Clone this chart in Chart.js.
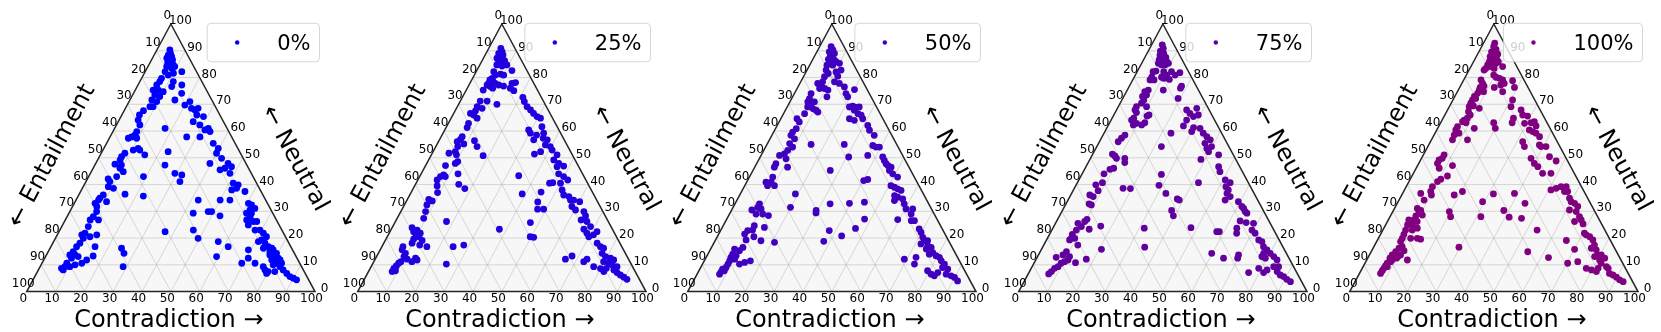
<!DOCTYPE html>
<html><head><meta charset="utf-8">
<script src="https://cdn.jsdelivr.net/npm/chart.js@4.4.1/dist/chart.umd.min.js"></script>
<style>
html,body{margin:0;padding:0;background:#fff;width:1661px;height:332px;overflow:hidden}
canvas{position:absolute;top:0}
</style></head><body>
<script>
// Series labels, colours and tick labels
const seriesLabels = ['0%', '25%', '50%', '75%', '100%'];
const seriesColors = ['#0000ff', '#2000df', '#4000bf', '#60009f', '#800080'];
const tickValues = [0, 10, 20, 30, 40, 50, 60, 70, 80, 90, 100];
const titleBottom = 'Contradiction →';
const titleLeft = '← Entailment';
const titleRight = '← Neutral';

// Each point: [contradiction %, neutral %]; entailment % = 100 - contradiction - neutral
const points0 = [
[4.5,90.3],[5.4,89.0],[4.9,88.4],[6.4,87.8],[5.0,87.2],[6.2,86.6],[7.3,86.6],[6.1,85.6],[7.3,85.1],[8.5,84.7],[6.5,84.1],[8.6,83.4],[9.3,84.1],[12.7,82.2],[6.9,82.2],[8.6,80.9],
[6.9,79.7],[6.9,78.5],[6.5,77.2],[6.2,75.3],[8.0,75.3],[10.0,74.7],[7.7,73.5],[9.7,72.9],[7.6,71.6],[9.6,71.0],[9.3,69.1],[8.2,69.1],[6.7,67.6],[6.1,66.0],[6.6,64.1],[8.1,62.3],[8.3,59.8],[8.3,58.5],[7.5,57.8],[6.6,57.3],[9.5,57.3],[11.9,53.5],[10.5,52.9],[8.2,51.7],[7.7,50.4],[7.8,49.2],[9.2,47.3],[6.8,47.6],[9.3,46.1],[11.1,44.8],[9.7,43.0],[7.2,42.1],[8.3,41.1],[8.7,39.2],[10.8,38.6],[8.5,36.1],[7.9,34.9],[7.8,34.2],[7.2,33.0],[10.9,33.6],[8.4,31.8],[9.3,29.9],[9.1,28.0],[8.6,26.8],[11.5,26.8],[9.2,24.3],[9.3,21.8],[8.5,21.2],[9.7,19.9],[11.7,20.5],[13.7,21.2],[9.4,18.1],[8.9,16.8],[8.7,14.9],[8.1,13.7],[9.9,13.7],[9.3,12.5],[11.3,13.1],[14.9,11.8],[8.6,10.6],[8.6,9.3],[7.7,8.7],[8.6,8.1],[10.3,9.3],[11.8,10.0],[13.8,10.6],[16.4,13.3],[15.3,16.8],
[15.4,51.1],[12.8,52.9],[19.0,43.0],[15.9,36.4],[22.6,35.7],[24.8,16.2],[26.6,14.3],[28.8,9.3],[36.8,22.4],[17.5,61.0],[22.9,52.3],[24.3,47.3],[29.3,44.2],[32.0,43.6],[32.6,41.1],
[10.1,81.6],[11.6,78.5],[12.0,76.6],[15.6,71.6],[15.2,77.2],[16.7,74.1],[20.0,69.7],[21.1,71.0],[22.9,68.5],[24.4,67.9],[25.2,68.5],[26.0,66.0],[28.6,65.4],[26.0,63.5],[28.9,62.3],[32.5,61.0],[33.7,59.8],[31.2,57.8],[26.6,57.8],[31.6,60.4],[37.0,55.4],[39.7,53.5],[40.0,51.7],[42.7,49.8],[45.9,47.9],[45.7,46.1],[47.7,46.7],[39.6,47.9],[44.3,45.5],[48.4,44.2],[51.4,40.5],[53.4,39.9],[53.5,38.6],[52.1,38.0],[57.0,37.4],[53.4,34.2],[50.0,34.2],[60.4,33.0],[61.8,32.4],[63.6,31.1],[61.6,29.3],[63.5,28.0],[65.5,26.2],[66.7,26.2],[64.4,24.9],[69.4,23.0],[67.7,23.0],[71.2,21.8],[72.9,20.5],[71.8,19.3],[73.6,18.1],[75.4,16.8],[74.0,16.2],[76.9,16.2],[77.7,15.6],[79.5,14.3],[77.5,13.7],[81.0,12.5],[82.0,11.8],[81.4,10.6],[80.5,10.0],[83.2,9.3],[84.9,8.1],[86.8,6.8],[88.5,5.6],[90.0,5.0],[91.4,4.4],[78.6,8.1],[80.0,7.5],[79.8,6.8],[82.3,7.5],[77.4,9.3],[73.9,10.6],[69.1,15.6],[70.6,12.5],[69.3,10.6],[61.5,16.8],[57.1,18.7],[59.3,13.1],[49.5,19.9],[46.3,23.0],[43.1,29.3],[49.2,29.9],[52.9,28.3],[48.0,29.9],[42.4,34.2],[62.2,30.5],[63.3,29.3],[62.9,26.8],[71.0,18.7],[76.9,14.9],[79.5,13.1],[79.1,11.8],[83.1,10.6]
];
const points25 = [
[4.2,90.9],[5.3,89.6],[4.4,89.0],[6.2,88.4],[5.3,87.8],[4.7,87.2],[6.7,86.8],[7.8,86.3],[6.0,85.9],[7.1,85.1],[8.6,85.1],[5.9,84.7],[7.9,84.3],[9.4,84.7],[12.2,82.6],[6.1,82.2],[7.3,80.9],[8.9,81.3],[10.2,80.9],
[6.8,79.7],[6.3,79.1],[7.7,78.5],[6.5,77.8],[8.8,77.8],[7.7,76.6],[6.3,77.2],[8.8,76.0],[10.3,77.2],[12.2,76.8],[14.6,77.8],[15.7,78.1],[14.9,76.0],[16.6,75.1],[5.9,75.3],[6.9,71.2],[9.3,71.2],[13.3,70.0],[6.9,69.1],[8.9,68.5],[7.1,67.5],[5.8,66.6],[7.2,66.0],[9.0,64.8],[7.0,62.9],[7.3,61.3],[7.3,57.9],[7.2,56.9],[6.5,56.0],[7.6,54.2],[7.7,52.3],[9.2,55.2],[12.3,56.4],[14.3,54.2],[18.1,50.8],[5.8,51.7],[8.7,51.1],[9.9,47.9],[10.4,48.6],[6.9,47.1],[8.0,43.6],[7.2,43.0],[8.9,43.0],[6.7,41.7],[7.8,39.5],[9.2,37.0],[12.8,44.0],[15.0,40.1],[17.9,38.5],[7.4,34.5],[8.9,33.9],[7.8,32.4],[8.6,29.9],[9.2,27.4],[17.7,26.2],
[6.9,23.9],[8.2,22.4],[9.1,21.8],[9.1,23.0],[10.8,21.8],[11.0,20.5],[12.8,19.1],[9.6,19.6],[9.8,18.1],[15.6,16.8],[12.8,17.4],[7.3,16.8],[7.6,15.6],[9.4,14.3],[9.5,13.1],[11.1,12.1],[9.4,11.2],[8.9,10.6],[8.6,9.6],[8.2,8.7],[8.2,7.5],[9.2,7.8],[13.8,12.5],[13.2,11.2],[14.7,11.8],[24.7,16.8],[28.1,17.4],[25.6,10.3],
[37.5,23.3],[34.2,43.3],[38.8,36.5],[47.0,25.8],[49.6,20.5],[50.9,20.3],[45.7,33.5],[47.0,30.8],[49.1,30.8],[45.0,37.2],
[21.0,72.6],[22.3,71.0],[24.2,69.1],[26.0,67.9],[27.7,66.6],[29.5,65.4],[31.0,64.8],[29.1,60.4],[30.3,59.2],[33.1,61.6],[34.9,59.2],[32.8,58.5],[35.7,57.3],[37.4,56.7],[37.7,54.8],[39.7,54.2],[41.0,52.9],[43.6,51.1],[43.4,49.2],[45.8,47.9],[48.0,46.9],[45.8,46.7],[47.7,44.0],[49.9,43.0],[52.0,41.7],[46.3,40.5],[47.3,40.7],[50.1,40.5],[51.9,38.0],[53.4,36.1],[55.5,35.5],[56.7,34.2],[57.8,34.2],[60.2,33.6],[58.4,31.8],[60.3,30.5],[63.5,29.9],[64.9,28.3],[64.1,26.8],[66.4,26.2],[68.6,24.3],[66.8,23.3],[71.8,22.4],[69.9,20.5],[68.6,21.8],[71.2,21.2],[74.0,18.1],[75.8,16.8],[77.2,16.2],[77.6,14.3],[79.4,13.1],[81.4,12.5],[82.9,11.8],[81.8,10.6],[83.2,10.0],[85.3,9.3],[79.7,11.2],[84.8,8.1],[86.4,7.1],[88.0,6.2],[89.6,5.4],[91.1,4.6],[72.8,11.2],[73.5,12.1],[77.2,9.3],[79.9,8.6],[81.6,7.5],[81.9,8.7],[66.0,12.1],[67.7,13.3],[35.6,51.4],[37.3,52.3],[32.7,56.7]
];
const points50 = [
[4.0,91.5],[5.2,90.3],[4.3,89.6],[6.4,89.0],[5.3,88.4],[6.5,87.5],[5.4,86.8],[7.6,86.5],[6.8,85.9],[8.5,85.9],[6.0,84.6],[8.0,84.6],[10.0,85.3],[11.8,82.8],[6.6,82.8],[8.0,81.5],[7.3,80.3],[10.4,82.1],[11.8,80.5],[11.7,78.4],[13.7,77.8],[16.1,76.5],[17.9,74.0],[19.1,72.8],[20.1,75.5],[11.0,75.3],[11.9,72.8],[7.6,78.4],[7.7,77.1],[6.2,77.8],[7.8,75.9],[9.5,75.9],
[5.8,74.0],[6.2,72.1],[6.2,70.9],[7.7,70.3],[8.5,70.9],[7.1,69.0],[9.2,68.4],[10.6,67.8],[11.6,67.1],[7.3,66.5],[5.6,64.6],[7.0,63.4],[7.2,60.9],[6.6,59.6],[6.6,58.4],[8.5,57.1],[7.7,55.3],[9.4,54.0],[8.3,52.8],[7.8,51.5],[6.4,50.9],[9.3,49.6],[6.7,47.8],[6.8,46.5],[11.4,46.5],[8.1,42.8],[8.5,40.9],[6.7,40.9],[10.3,39.6],[7.9,39.6],[8.5,32.8],[8.5,31.5],[7.0,30.5],[10.0,30.9],[9.2,29.0],[11.5,29.0],[13.8,28.4],[14.6,24.0],[10.8,24.6],[11.0,23.0],[9.4,22.8],[9.0,21.5],[12.7,20.5],[10.6,19.3],[15.9,19.0],[20.9,18.4],[10.9,16.5],[10.3,15.3],[8.3,15.9],[8.6,14.0],[10.1,13.4],[8.6,12.8],[8.8,11.5],[10.2,12.1],[12.8,10.3],[8.8,10.3],[8.8,9.0],[7.9,8.4],[7.9,7.5],[7.8,6.5],[8.8,7.8],[14.3,10.9],[16.0,11.5],
[15.3,55.0],[19.1,36.5],[19.9,31.5],[29.4,30.3],[29.8,29.4],[26.8,45.3],[33.0,32.8],[39.6,33.0],[44.6,33.4],[37.7,22.8],[37.8,18.8],[43.0,20.8],[46.4,23.6],[47.8,27.1],[26.8,55.0],[30.7,50.3],[37.0,50.9],[40.3,41.5],[41.5,41.9],
[21.6,69.0],[22.6,69.3],[24.0,68.8],[25.0,69.0],[23.9,67.8],[25.8,66.5],[27.2,65.9],[23.8,64.6],[25.8,64.0],[28.4,64.6],[31.4,62.1],[32.9,60.3],[35.5,58.4],[36.9,54.6],[38.3,54.0],[39.5,54.0],[42.5,50.3],[43.7,49.0],[44.9,47.8],[45.9,47.1],[47.3,46.5],[47.3,45.3],[49.1,44.0],[51.4,42.8],[50.7,39.6],[52.2,39.0],[53.6,38.4],[55.1,37.8],[53.8,35.9],[55.2,35.3],[57.3,34.6],[54.7,34.0],[58.7,32.8],[60.3,30.9],[62.6,30.9],[63.0,29.0],[64.3,26.5],[59.4,26.9],[65.4,26.5],[68.6,23.4],[69.9,22.1],[71.4,20.3],[72.6,19.0],[73.7,19.0],[74.7,17.1],[76.2,16.5],[74.8,15.9],[77.7,14.6],[79.4,13.4],[80.9,12.8],[82.2,11.5],[83.9,10.3],[83.9,9.0],[86.0,8.4],[83.2,7.1],[86.4,6.5],[88.4,5.9],[89.9,5.3],[91.6,4.0],[81.2,6.5],[82.6,5.9],[79.3,7.8],[72.8,12.8],[73.5,10.3],[69.1,12.1],[72.0,17.8],[76.8,14.0]
];
const points75 = [
[3.7,92.2],[4.7,90.9],[4.2,89.9],[5.8,89.0],[4.8,88.4],[6.0,87.8],[7.3,87.5],[5.4,86.6],[7.0,86.3],[8.4,85.9],[5.8,85.3],[7.2,84.7],[8.4,84.7],[9.3,85.3],[5.5,82.2],[6.4,82.4],[9.2,82.2],[11.9,82.2],[10.9,80.9],[10.5,79.7],[12.6,79.3],[13.8,80.9],[15.0,81.8],[6.1,80.1],[6.0,79.1],[7.4,79.1],
[7.3,75.3],[6.4,74.7],[7.6,73.5],[6.5,72.9],[7.6,71.6],[7.4,70.4],[9.8,69.1],[12.2,66.0],[6.3,69.1],[6.4,67.9],[7.4,66.9],[7.5,64.8],[7.1,64.1],[9.4,62.9],[8.6,62.3],[11.5,62.3],[12.2,63.1],[7.6,58.5],[7.0,57.3],[6.5,56.0],[6.8,51.4],[8.0,50.7],[11.9,49.8],[12.7,48.2],[9.0,49.8],[9.9,46.1],[8.8,45.7],[7.6,44.0],[8.7,40.7],[6.8,39.9],[8.7,37.7],[6.6,36.1],[8.1,35.5],[8.0,32.8],[9.0,32.4],[16.9,38.6],[19.5,38.5],[10.2,27.0],[9.8,26.2],[7.8,25.5],[9.6,24.3],[8.5,23.0],[12.8,23.3],[16.2,24.5],[7.9,21.4],[8.3,19.9],[9.5,19.9],[8.0,19.3],[11.8,17.4],[9.1,14.9],[8.5,13.7],[11.1,13.1],[11.2,11.8],[10.3,11.2],[9.4,10.6],[9.0,9.3],[8.1,8.7],[7.6,7.5],[7.1,6.6],[6.6,12.8],[14.3,10.8],[17.4,12.1],[20.8,15.8],
[22.4,54.2],[27.6,43.8],[28.8,39.7],[32.7,36.7],[37.7,34.6],[38.6,34.2],[37.9,30.3],[39.5,28.3],[31.7,23.7],[35.4,16.6],[23.2,59.2],[42.0,40.7],[47.8,23.9],[59.8,14.3],[64.8,12.5],[57.5,22.4],[58.4,22.4],[12.5,75.3],[9.5,80.1],[11.7,65.6],[19.2,72.2],
[18.1,76.8],[18.1,76.0],[24.3,67.9],[26.1,66.6],[27.5,68.5],[27.9,65.4],[29.3,66.0],[26.2,64.1],[26.2,61.9],[30.0,61.3],[30.1,59.8],[32.4,61.0],[34.4,59.2],[36.3,57.9],[38.1,56.7],[36.9,55.4],[39.8,54.2],[38.5,53.5],[39.7,52.3],[43.8,51.1],[38.5,49.4],[46.0,46.7],[47.4,44.8],[50.8,41.7],[53.0,40.7],[52.3,39.2],[53.7,38.0],[53.9,36.7],[54.5,34.2],[55.6,35.5],[59.4,33.6],[61.5,31.8],[62.5,31.1],[63.6,29.9],[64.5,29.3],[63.6,26.4],[66.0,25.8],[68.7,25.5],[69.4,23.0],[63.8,23.7],[71.1,21.8],[73.6,19.3],[75.0,18.7],[76.5,16.8],[78.3,15.6],[77.8,14.3],[80.1,14.3],[81.9,13.1],[83.7,11.8],[85.5,9.3],[83.8,9.3],[87.6,6.2],[89.1,5.6],[90.7,4.6],[92.4,3.7],[85.9,7.5],[82.1,8.1],[81.4,7.1],[78.9,8.7],[76.2,7.1],[69.4,13.7],[69.7,12.5],[64.7,21.8],[77.8,13.1],[79.3,12.5]
];
const points100 = [
[3.9,92.8],[4.2,91.5],[5.5,90.5],[4.4,89.6],[5.6,89.0],[7.0,88.7],[4.8,87.8],[6.3,87.2],[7.6,86.8],[5.5,85.9],[6.7,85.6],[8.1,85.3],[8.6,85.9],[5.5,84.7],[6.9,84.1],[8.4,83.4],[5.2,82.8],[5.5,83.4],[11.0,84.1],[9.5,80.9],[10.7,80.1],[12.1,79.7],[13.5,79.1],[14.7,77.8],[13.8,77.2],[17.1,78.8],[19.0,76.3],[12.0,76.3],[15.7,74.7],
[6.0,79.1],[7.2,77.8],[7.1,76.3],[8.2,76.8],[7.3,75.3],[9.1,74.7],[7.3,74.1],[6.8,72.9],[6.8,71.6],[7.6,72.2],[6.8,70.4],[6.9,69.1],[8.2,69.4],[10.7,68.5],[7.6,67.2],[8.8,66.0],[8.4,64.8],[7.7,64.1],[7.4,63.5],[8.8,63.1],[12.7,61.0],[6.6,61.6],[6.6,60.4],[8.3,59.2],[7.0,58.5],[7.3,56.7],[12.5,56.7],[7.2,51.1],[7.2,49.8],[6.4,49.2],[6.5,47.9],[8.0,46.1],[12.1,47.1],[12.3,43.2],[10.6,42.0],[9.9,41.1],[9.1,39.2],[9.4,37.4],[6.3,36.7],[10.3,36.1],[8.7,34.2],[18.2,36.1],[20.4,37.4],[19.6,29.9],[21.0,28.0],[7.9,31.1],[9.5,30.3],[9.4,29.3],[8.8,28.3],[10.9,28.6],[7.1,26.8],[8.9,26.8],[10.3,26.2],[9.3,24.9],[7.6,24.9],[11.6,23.7],[10.2,23.0],[7.9,23.0],[8.1,21.4],[8.3,19.9],[11.2,19.9],[13.5,19.9],[14.8,19.6],[8.3,18.7],[9.8,16.8],[9.0,16.2],[11.2,15.3],[8.5,14.9],[7.9,13.7],[10.8,13.7],[10.2,13.1],[10.0,12.5],[14.1,11.8],[8.8,11.8],[8.6,11.2],[7.7,10.6],[7.6,9.6],[7.5,8.7],[7.4,7.8],[7.3,6.8],[8.4,9.3],[7.7,12.5],[29.6,16.6],
[31.6,36.5],[29.3,33.6],[31.5,28.0],[38.3,30.3],[41.4,27.8],[38.8,36.7],[45.9,27.4],[44.3,33.0],[53.5,23.0],[54.3,14.9],[62.6,12.7],[20.0,61.0],[18.4,63.1],[24.8,63.1],[24.4,64.8],[33.5,54.2],[32.0,56.0],
[21.4,69.1],[20.7,71.6],[25.5,67.9],[27.0,66.0],[28.9,65.6],[29.2,62.9],[31.4,63.1],[32.3,63.5],[33.7,61.9],[32.1,60.4],[33.6,59.8],[35.0,59.2],[36.9,57.9],[38.4,54.8],[39.3,54.2],[41.0,54.2],[44.1,50.4],[38.0,49.8],[40.1,47.9],[41.9,46.7],[44.8,44.2],[47.7,44.2],[47.2,48.8],[50.8,38.0],[52.3,38.6],[53.7,39.2],[55.8,37.4],[56.9,37.4],[55.5,39.2],[58.8,34.9],[60.0,33.6],[61.5,33.0],[63.2,31.8],[61.0,30.5],[63.6,29.9],[65.7,28.0],[66.9,26.8],[68.3,25.3],[64.9,26.2],[70.5,21.8],[71.4,21.2],[73.0,20.5],[74.7,19.3],[76.2,17.4],[75.7,16.2],[77.7,15.6],[79.3,13.7],[78.4,13.1],[80.4,13.7],[82.2,12.5],[80.8,11.8],[84.4,9.3],[85.3,8.7],[77.7,8.7],[79.8,8.1],[81.8,7.5],[81.8,8.7],[81.9,10.6],[86.7,6.8],[88.2,6.2],[89.8,5.4],[91.4,4.4],[93.0,3.7],[65.6,19.1],[70.1,15.8],[70.3,10.6],[73.5,11.2]
];
const seriesPoints = [points0, points25, points50, points75, points100];

// ---- layout ----
const FONT = '"DejaVu Sans", "Liberation Sans", sans-serif';
const CW = 331, CH = 332;
const PANEL_STEP = 330.65;
const BL_X = 26.7, TRI_W = 288.3, TOP = 24, BASE = 291.6;

function ternaryPlugin(label, color) {
  return {
    id: 'ternary',
    beforeDatasetsDraw(chart) {
      const {ctx, scales: {x, y}} = chart;
      const P = (c, n) => [x.getPixelForValue(c + n / 2), y.getPixelForValue(n)];
      const L = P(0, 0), R = P(100, 0), A = P(0, 100);
      ctx.save();
      ctx.beginPath(); ctx.moveTo(L[0], L[1]); ctx.lineTo(R[0], R[1]); ctx.lineTo(A[0], A[1]); ctx.closePath();
      ctx.fillStyle = '#f7f7f7'; ctx.fill();
      ctx.strokeStyle = 'rgba(170,170,170,0.55)'; ctx.lineWidth = 0.8;
      const seg = (p, q) => { ctx.beginPath(); ctx.moveTo(p[0], p[1]); ctx.lineTo(q[0], q[1]); ctx.stroke(); };
      for (const k of tickValues) {
        if (k === 0 || k === 100) continue;
        seg(P(0, k), P(100 - k, k));
        seg(P(k, 0), P(k, 100 - k));
        seg(P(100 - k, 0), P(0, 100 - k));
      }
      ctx.restore();
    },
    afterDatasetsDraw(chart) {
      const {ctx, scales: {x, y}} = chart;
      const P = (c, n) => [x.getPixelForValue(c + n / 2), y.getPixelForValue(n)];
      const L = P(0, 0), R = P(100, 0), A = P(0, 100);
      ctx.save();
      ctx.beginPath(); ctx.moveTo(L[0], L[1]); ctx.lineTo(R[0], R[1]); ctx.lineTo(A[0], A[1]); ctx.closePath();
      ctx.strokeStyle = '#262626'; ctx.lineWidth = 1.5; ctx.lineJoin = 'miter'; ctx.stroke();

      // tick labels
      ctx.fillStyle = '#000'; ctx.font = '12px ' + FONT;
      ctx.textAlign = 'center'; ctx.textBaseline = 'middle';
      for (const v of tickValues) {
        let p = P(v, 0);               // contradiction, bottom edge
        ctx.fillText(String(v), p[0] - 3.5, p[1] + 6.8);
        p = P(0, 100 - v);             // entailment, left edge
        ctx.fillText(String(v), p[0] - 3.5, p[1] - 8);
        p = P(100 - v, v);             // neutral, right edge
        ctx.fillText(String(v), p[0] + 9.5, p[1] - 3);
      }

      // axis titles
      ctx.font = '24px ' + FONT;
      ctx.textAlign = 'center'; ctx.textBaseline = 'alphabetic';
      ctx.fillText(titleBottom, A[0] - 2, 327);
      const ang = Math.atan2(L[1] - A[1], A[0] - L[0]);
      ctx.textBaseline = 'middle';
      ctx.save(); ctx.translate(L[0] + 25.3, 156); ctx.rotate(-ang); ctx.fillText(titleLeft, 0, 0); ctx.restore();
      ctx.save(); ctx.translate(L[0] + 267.8, 158.5); ctx.rotate(ang); ctx.fillText(titleRight, 0, 0); ctx.restore();

      // legend
      ctx.font = '21px ' + FONT;
      const tw = ctx.measureText(label).width;
      const right = R[0] + 4.5, top = 23.3, h = 38.5;
      const left = right - (79 + tw);
      ctx.beginPath();
      ctx.roundRect(left, top, right - left, h, 4);
      ctx.fillStyle = 'rgba(255,255,255,0.8)'; ctx.fill();
      ctx.strokeStyle = 'rgba(204,204,204,0.8)'; ctx.lineWidth = 1; ctx.stroke();
      ctx.beginPath(); ctx.arc(left + 30, 42.5, 2.2, 0, Math.PI * 2);
      ctx.fillStyle = color; ctx.fill();
      ctx.fillStyle = '#000'; ctx.textAlign = 'left'; ctx.textBaseline = 'alphabetic';
      ctx.fillText(label, left + 70, 49.5);
      ctx.restore();
    }
  };
}

seriesPoints.forEach((pts, i) => {
  const cv = document.createElement('canvas');
  cv.width = CW; cv.height = CH;
  cv.style.left = (i * PANEL_STEP) + 'px';
  cv.style.width = CW + 'px'; cv.style.height = CH + 'px';
  document.body.appendChild(cv);
  new Chart(cv, {
    type: 'scatter',
    data: {
      datasets: [{
        label: seriesLabels[i],
        data: pts.map(([c, n]) => ({x: c + n / 2, y: n, entailment: 100 - c - n})),
        backgroundColor: seriesColors[i],
        borderWidth: 0,
        pointRadius: 3.4,
        pointHoverRadius: 3.4,
        clip: false
      }]
    },
    options: {
      responsive: false, animation: false, devicePixelRatio: 1,
      layout: {padding: {left: BL_X, right: CW - BL_X - TRI_W, top: TOP, bottom: CH - BASE}},
      scales: {
        x: {type: 'linear', min: 0, max: 100, display: false},
        y: {type: 'linear', min: 0, max: 100, display: false}
      },
      plugins: {legend: {display: false}, tooltip: {enabled: false}}
    },
    plugins: [ternaryPlugin(seriesLabels[i], seriesColors[i])]
  });
});
</script>
</body></html>
